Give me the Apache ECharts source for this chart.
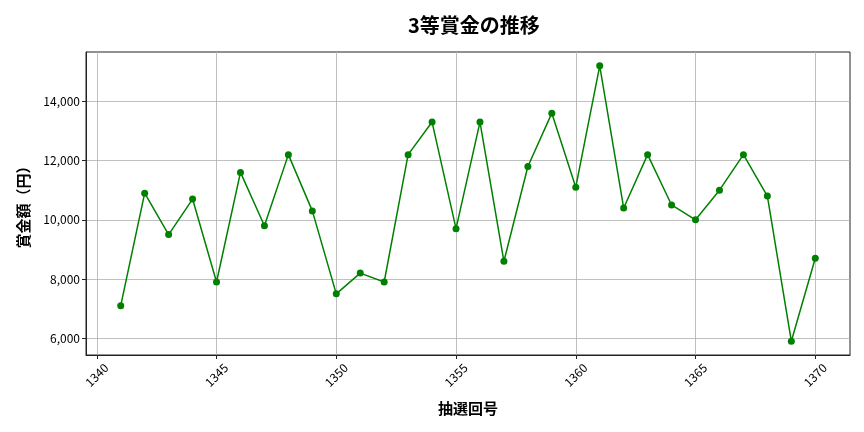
<!DOCTYPE html>
<html><head><meta charset="utf-8">
<script src="https://cdn.jsdelivr.net/npm/echarts@6/dist/echarts.min.js"></script>
<style>html,body{margin:0;padding:0;background:#fff}#c{width:864px;height:432px}</style>
</head><body><div id="c"></div>
<script>
const draws = [1341,1342,1343,1344,1345,1346,1347,1348,1349,1350,1351,1352,1353,1354,1355,1356,1357,1358,1359,1360,1361,1362,1363,1364,1365,1366,1367,1368,1369,1370];
const prizes = [7100,10900,9500,10700,7900,11600,9800,12200,10300,7500,8200,7900,12200,13300,9700,13300,8600,11800,13600,11100,15200,10400,12200,10500,10000,11000,12200,10800,5900,8700];
const xTicks = [1340,1345,1350,1355,1360,1365,1370];
const yTicks = [6000,8000,10000,12000,14000];

const FONT = '"Noto Sans CJK JP", "Noto Sans", sans-serif';
const xSpan = draws[draws.length-1]-draws[0];
const yMin = Math.min(...prizes), yMax = Math.max(...prizes), ySpan = yMax-yMin;

const chart = echarts.init(document.getElementById('c'));
chart.setOption({
  animation: false,
  backgroundColor: '#fff',
  title: {
    text: '3等賞金の推移', left: 403, top: 10,
    textStyle: {fontFamily: FONT, fontSize: 20, fontWeight: 'bold', color: '#000'}
  },
  grid: {left: 86, right: 14, top: 52, bottom: 77, show: true, borderColor: '#222', borderWidth: 1, backgroundColor: 'transparent'},
  xAxis: {
    type: 'value',
    min: draws[0] - xSpan*0.05, max: draws[draws.length-1] + xSpan*0.05,
    name: '抽選回号', nameLocation: 'middle', nameGap: 46,
    nameTextStyle: {fontFamily: FONT, fontSize: 15, fontWeight: 'bold', color: '#000'},
    axisLine: {show: true, lineStyle: {color: '#222', width: 1}},
    axisTick: {show: true, length: 4, customValues: xTicks, lineStyle: {color: '#222'}},
    axisLabel: {customValues: xTicks, rotate: 45, margin: 20, align: 'center', verticalAlign: 'middle', fontFamily: FONT, fontSize: 12, color: '#000', formatter: v => String(v)},
    splitLine: {show: true, lineStyle: {color: '#b0b0b0', width: 0.8}}
  },
  yAxis: {
    type: 'value',
    min: yMin - ySpan*0.05, max: yMax + ySpan*0.05,
    name: '賞金額（円）', nameLocation: 'middle', nameGap: 55, nameRotate: 90,
    nameTextStyle: {fontFamily: FONT, fontSize: 15, fontWeight: 'bold', color: '#000'},
    axisLine: {show: true, lineStyle: {color: '#222', width: 1}},
    axisTick: {show: true, length: 4, customValues: yTicks, lineStyle: {color: '#222'}},
    axisLabel: {customValues: yTicks, margin: 6, fontFamily: FONT, fontSize: 12, color: '#000', formatter: v => v.toLocaleString('en-US')},
    splitLine: {show: true, lineStyle: {color: '#b0b0b0', width: 0.8}}
  },
  series: [{
    type: 'line',
    data: draws.map((d,i) => [d, prizes[i]]),
    color: '#008000',
    lineStyle: {color: '#008000', width: 1.5},
    symbol: 'circle', symbolSize: 7,
    itemStyle: {color: '#008000'}
  }]
});
</script></body></html>
